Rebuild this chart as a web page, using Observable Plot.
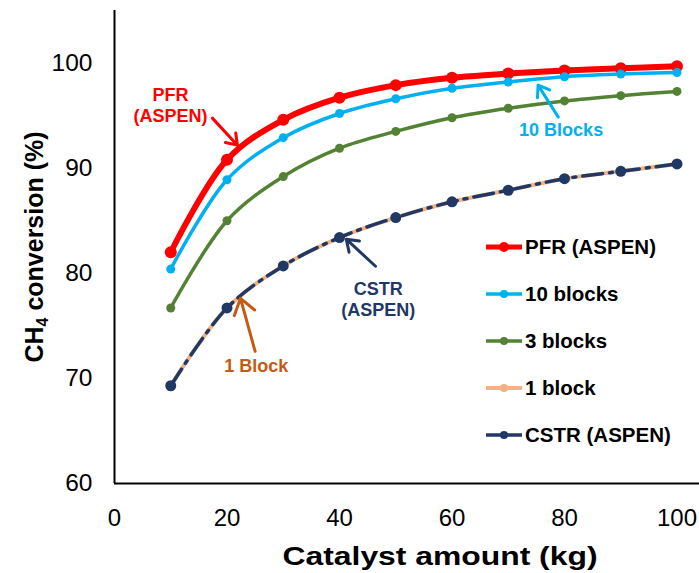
<!DOCTYPE html>
<html>
<head>
<meta charset="utf-8">
<script src="https://cdn.jsdelivr.net/npm/d3@7"></script>
<script src="https://cdn.jsdelivr.net/npm/@observablehq/plot@0.6"></script>
<style>
  html, body { margin: 0; padding: 0; background: #fff; }
  #wrap { position: relative; width: 699px; height: 573px; font-family: "Liberation Sans", Arial, sans-serif; }
  #legend { position: absolute; left: 485px; top: 223px; }
  .item { display: flex; align-items: center; height: 47px; font-size: 20.5px; font-weight: bold; color: #000; }
  .item svg { margin-right: 2px; }
</style>
</head>
<body>
<div id="wrap"><div id="legend"></div></div>
<script>
// ---- data ----
const catalyst = [10, 20, 30, 40, 50, 60, 70, 80, 90, 100];
const pfrAspen = [82.0, 90.8, 94.6, 96.7, 97.9, 98.6, 99.0, 99.3, 99.5, 99.7];
const blocks10 = [80.4, 88.9, 92.9, 95.2, 96.6, 97.6, 98.2, 98.7, 98.95, 99.1];
const blocks3  = [76.7, 85.0, 89.2, 91.9, 93.5, 94.8, 95.7, 96.4, 96.9, 97.3];
const block1   = [69.3, 76.7, 80.7, 83.4, 85.3, 86.8, 87.9, 89.0, 89.7, 90.4];
const cstrAspen = [69.3, 76.7, 80.7, 83.4, 85.3, 86.8, 87.9, 89.0, 89.7, 90.4];

const seriesNames = ["PFR (ASPEN)", "10 blocks", "3 blocks", "1 block", "CSTR (ASPEN)"];
const seriesColors = ["#FF0000", "#00B0F0", "#548235", "#F4B183", "#203864"];
const xTicks = [0, 20, 40, 60, 80, 100];
const yTicks = [60, 70, 80, 90, 100];

// annotations (data coordinates)
const annotLabels = ["PFR\n(ASPEN)", "10 Blocks", "CSTR\n(ASPEN)", "1 Block"];
const annotColors = ["#FF0000", "#00B0F0", "#1F3864", "#C55A11"];
const annotX = [9.95, 79.4, 46.9, 25.2];
const annotY = [96.05, 93.7, 77.6, 71.24];
const arrowX1 = [17.4, 78.9, 46.4, 25.0];
const arrowY1 = [94.76, 94.86, 80.67, 72.57];
const arrowX2 = [21.85, 75.3, 41.2, 22.4];
const arrowY2 = [92.19, 97.9, 83.24, 77.62];

const styles = [
  {w: 6, r: 6, dash: null},
  {w: 3.5, r: 4.5, dash: null},
  {w: 3.5, r: 4.5, dash: null},
  {w: 4, r: 4.5, dash: null},
  {w: 3.5, r: 5.5, dash: "20 7 3 7"}
];
const allValues = [pfrAspen, blocks10, blocks3, block1, cstrAspen];

const marks = [];
allValues.forEach((vals, i) => {
  const data = catalyst.map((c, j) => ({x: c, y: vals[j]}));
  marks.push(Plot.line(data, {x: "x", y: "y", stroke: seriesColors[i], strokeWidth: styles[i].w,
    curve: "catmull-rom", strokeDasharray: styles[i].dash}));
  marks.push(Plot.dot(data, {x: "x", y: "y", fill: seriesColors[i], r: styles[i].r}));
});

const annots = annotLabels.map((t, i) => ({t, c: annotColors[i], x: annotX[i], y: annotY[i],
  x1: arrowX1[i], y1: arrowY1[i], x2: arrowX2[i], y2: arrowY2[i]}));

const chart = Plot.plot({
  width: 699,
  height: 573,
  marginLeft: 114,
  marginRight: 0,
  marginTop: 10,
  marginBottom: 90,
  style: {fontFamily: "'Liberation Sans', Arial, sans-serif", background: "#fff", color: "#000"},
  x: {domain: [0, 104]},
  y: {domain: [60, 105]},
  marks: [
    Plot.axisX({ticks: xTicks, tickSize: 0, tickPadding: 25, fontSize: 24, label: null}),
    Plot.axisY({ticks: yTicks, tickSize: 0, tickPadding: 22, fontSize: 24.5, label: null}),
    ...marks,
    Plot.arrow(annots, {x1: "x1", y1: "y1", x2: "x2", y2: "y2", stroke: "c", strokeWidth: 3, headLength: 12, headAngle: 70}),
    Plot.text(annots, {x: "x", y: "y", text: "t", fill: "c", fontSize: 18, fontWeight: "bold", lineHeight: 1.17}),
    Plot.ruleX([0], {stroke: "#000", strokeWidth: 2}),
    Plot.ruleY([60], {stroke: "#000", strokeWidth: 2})
  ]
});

const svg = d3.select(chart);
// axis titles
svg.append("text")
  .attr("x", 440).attr("y", 565)
  .attr("text-anchor", "middle")
  .attr("font-size", 25).attr("font-weight", "bold")
  .attr("textLength", 315).attr("lengthAdjust", "spacingAndGlyphs")
  .attr("fill", "#000")
  .text("Catalyst amount (kg)");
const yt = svg.append("text")
  .attr("transform", "translate(43,247) rotate(-90)")
  .attr("text-anchor", "middle")
  .attr("font-size", 25).attr("font-weight", "bold")
  .attr("fill", "#000");
yt.append("tspan").text("CH");
yt.append("tspan").attr("font-size", 16).attr("dy", 5).text("4");
yt.append("tspan").attr("dy", -5).text(" conversion (%)");

document.getElementById("wrap").prepend(chart);

// legend
const legend = d3.select("#legend");
seriesNames.forEach((name, i) => {
  const item = legend.append("div").attr("class", "item");
  const s = item.append("svg").attr("width", 38).attr("height", 14);
  s.append("line").attr("x1", 1).attr("x2", 37).attr("y1", 7).attr("y2", 7)
    .attr("stroke", seriesColors[i]).attr("stroke-width", Math.min(styles[i].w, 5));
  s.append("circle").attr("cx", 19).attr("cy", 7).attr("r", i === 0 ? 5 : 4).attr("fill", seriesColors[i]);
  item.append("span").text(name);
});
</script>
</body>
</html>
